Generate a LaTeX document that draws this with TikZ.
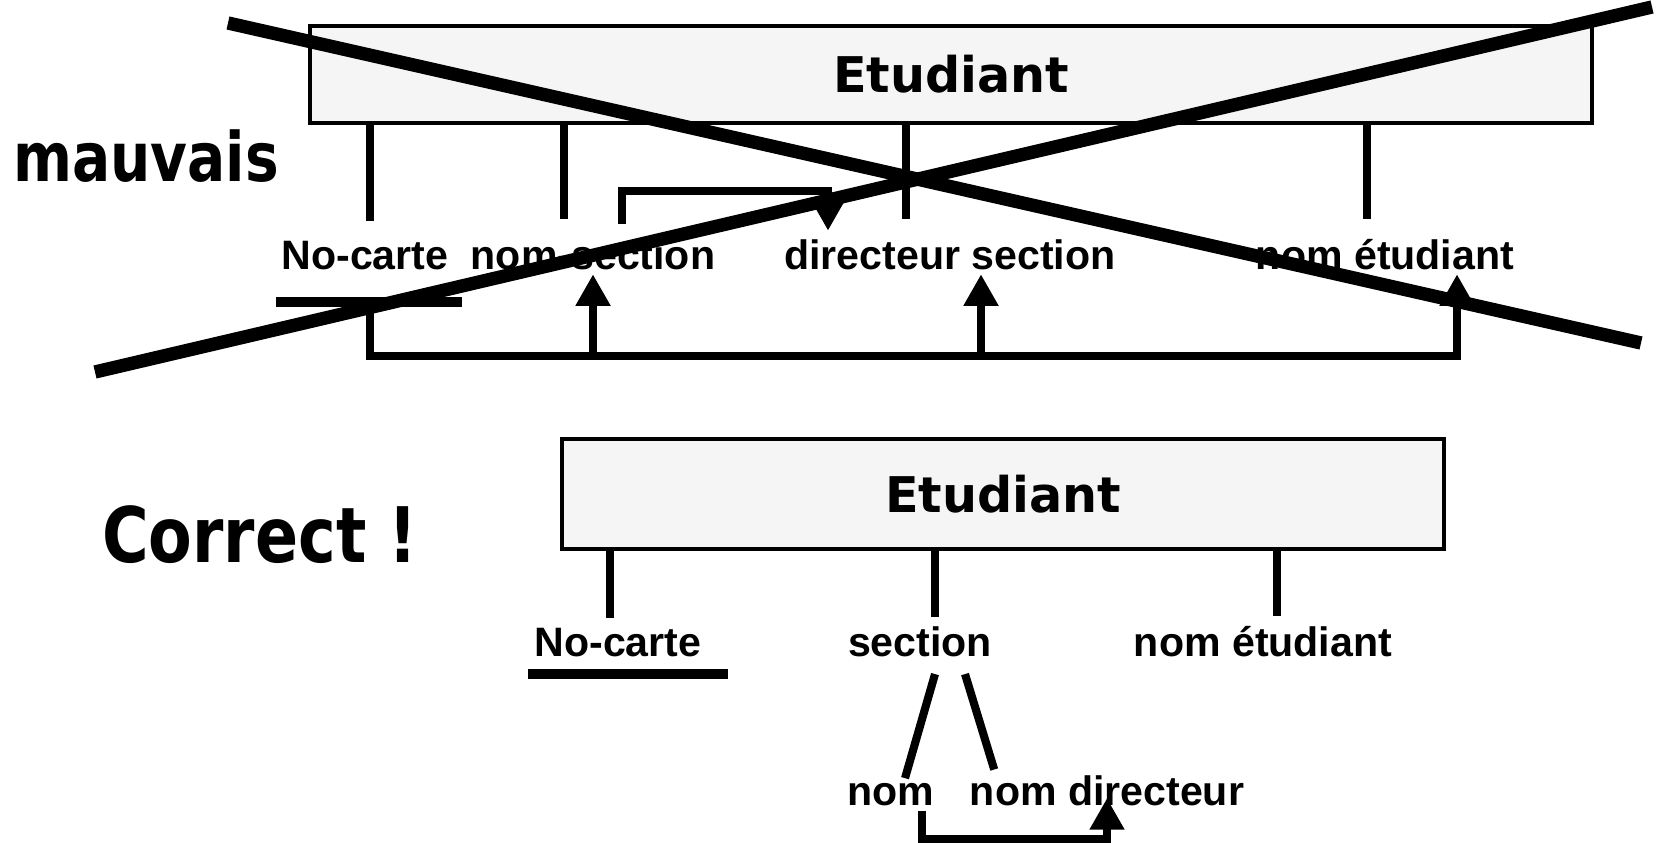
\documentclass[tikz,border=0pt]{standalone}
\usepackage{fontspec}
\setmainfont{Liberation Sans}
\newfontfamily\titlefont{DejaVu Sans}
\newfontfamily\verdictfont{DejaVu Sans}[FakeStretch=0.83]
\usetikzlibrary{arrows.meta}

\definecolor{entfill}{RGB}{245,245,245}

\tikzset{
  entity/.style={draw, line width=1.4pt, fill=entfill, inner sep=0pt,
    font=\titlefont\bfseries\fontsize{14pt}{17pt}\selectfont},
  attr/.style={anchor=base, inner sep=0pt, font=\bfseries\fontsize{11.7pt}{14pt}\selectfont},
  verdict/.style={anchor=base, inner sep=0pt, font=\verdictfont\bfseries\fontsize{#1}{#1}\selectfont},
  link/.style={line width=2.3pt},
  dep/.style={line width=2.3pt, -{Triangle[width=9.4pt,length=9pt]}},
  keyline/.style={line width=2.85pt},
  cross/.style={line width=3.8pt}
}

\begin{document}
\begin{tikzpicture}[x=0.1mm, y=-0.1mm]
  \useasboundingbox (0,0) rectangle (1656,843);

  % first try
  \node[verdict=19.4pt] (mauvais) at (146,182) {mauvais};
  \node[entity, minimum width=128.2mm, minimum height=9.7mm] (ent1) at (951,74.5) {Etudiant};

  \node[attr] (nc1)   at (365,270)  {No-carte};
  \node[attr] (nsec1) at (593,270)  {nom-section};
  \node[attr] (dir1)  at (950,270)  {directeur section};
  \node[attr] (net1)  at (1385,270) {nom étudiant};

  \foreach \x/\a in {370/nc1, 564/nsec1, 906/dir1, 1367/net1}
    \draw[link, shorten >=5.8pt] (ent1.south -| \x,0) -- (\a.north -| \x,0);

  \draw[keyline] ([shift={(-5,32)}]nc1.base west) -- ([shift={(13,32)}]nc1.base east);

  % dependencies
  \draw[dep, shorten >=2.5pt] (nc1.base -| 622,0) ++(0,-46) |- (828,191) -- (dir1.north -| 828,0);
  \draw[dep, shorten >=0.9pt] ([shift={(5,37)}]nc1.base) |- (1457,356) -- (net1.south -| 1457,0);
  \draw[dep, shorten >=0.9pt] (593,356) -- (nsec1.south -| 593,0);
  \draw[dep, shorten >=0.9pt] (981,356) -- (dir1.south -| 981,0);

  % crossed out
  \draw[cross] (228,23) -- (1641,343);
  \draw[cross] (95,372) -- (1652,7);

  % second try
  \node[verdict=21.8pt] (correct) at (260,563) {Correct !};
  \node[entity, minimum width=88.2mm, minimum height=11mm] (ent2) at (1003,494) {Etudiant};

  \node[attr] (nc2)  at (618,656)  {No-carte};
  \node[attr] (sec2) at (920,656)  {section};
  \node[attr] (net2) at (1263,656) {nom étudiant};

  \foreach \x/\a in {610/nc2, 935/sec2, 1277/net2}
    \draw[link, shorten >=2.5pt] (ent2.south -| \x,0) -- (\a.north -| \x,0);

  \draw[keyline] ([shift={(-6,18)}]nc2.base west) -- ([shift={(26,18)}]nc2.base east);

  \node[attr] (nom)  at (891,805)  {nom};
  \node[attr] (ndir) at (1107,805) {nom directeur};

  \draw[link] ([shift={(15,17)}]sec2.south) -- ([shift={(14,-4)}]nom.north);
  \draw[link] ([shift={(45,17)}]sec2.south) -- ([shift={(25,-5)}]ndir.north west);

  \draw[dep] ([shift={(31,5)}]nom.south) |- ([shift={(0,33)}]ndir.south) -- ([shift={(0,-8)}]ndir.south);
\end{tikzpicture}
\end{document}
